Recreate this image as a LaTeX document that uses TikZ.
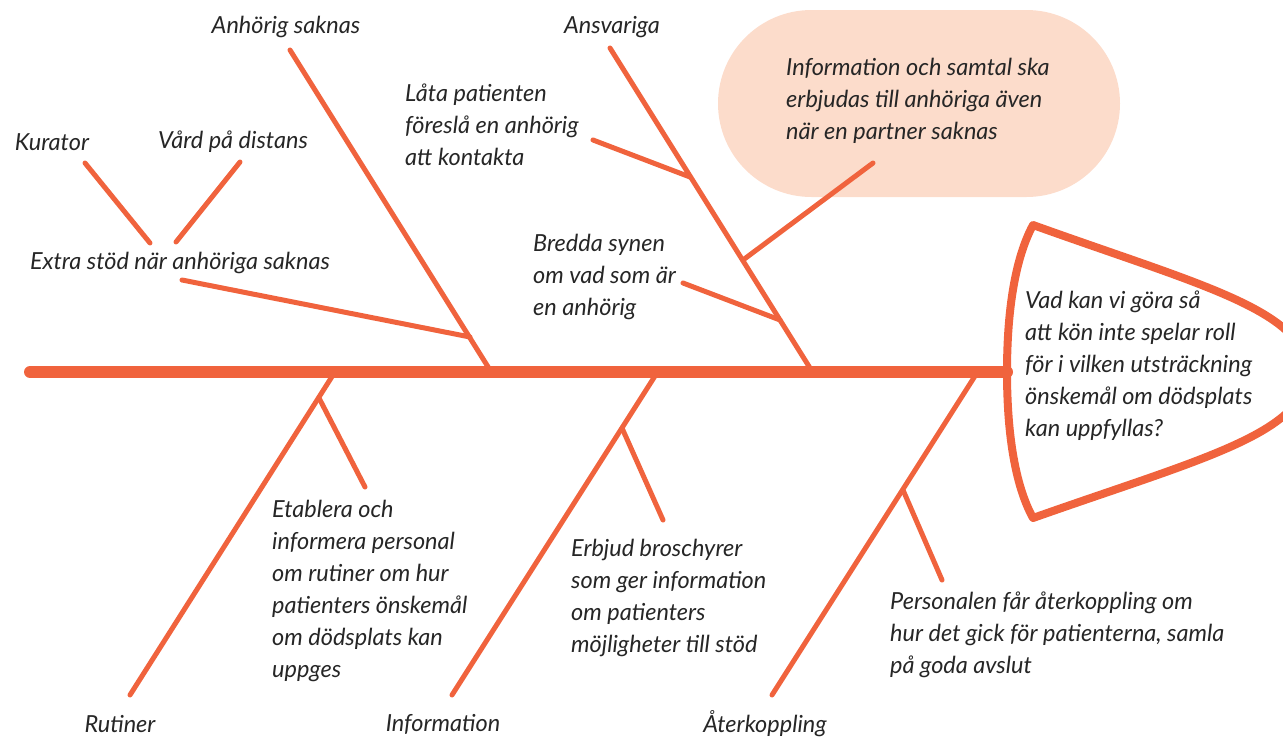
\documentclass[tikz,border=0pt]{standalone}
\usepackage{fontspec}
\setmainfont{Lato}
\usetikzlibrary{shapes.misc}
\definecolor{fishorange}{HTML}{F0633D}
\definecolor{bubblepink}{HTML}{FCDCCB}
\definecolor{textgray}{HTML}{262626}
\begin{document}
\begin{tikzpicture}[x=1pt,y=-1pt,
  bone/.style={draw=fishorange,line width=5pt,line cap=round},
  spine/.style={draw=fishorange,line width=12pt,line cap=round},
  headline/.style={draw=fishorange,line width=8pt,line join=round},
  lbl/.style={font=\fontsize{23.5}{32}\selectfont\itshape,text=textgray,inner sep=0pt},
  blk/.style={lbl,align=left,anchor=west},
  bubble/.style={rounded rectangle,fill=bubblepink,minimum width=402pt,minimum height=187pt,inner sep=0pt}]
\useasboundingbox (0,0) rectangle (1283,739);
\clip (0,0) rectangle (1283,739);

% bubble
\node[bubble] (bub) at (919,103.5) {};
\node[blk] (bubtext) at (786,101) {Information och samtal ska\\erbjudas till anhöriga även\\när en partner saknas};

% spine and head
\coordinate (s0) at (30,372);
\coordinate (s1) at (1007,372);
\draw[spine] (s0) -- (s1);
\draw[headline] (1033,225) .. controls (1200,285) and (1305,310) .. (1308,372)
  .. controls (1305,434) and (1200,459) .. (1033,518)
  .. controls (1012,480) and (1007,420) .. (1007,372)
  .. controls (1007,324) and (1012,264) .. (1033,225) -- cycle;
\node[blk] (head) at (1025,366) {Vad kan vi göra så\\att kön inte spelar roll\\för i vilken utsträckning\\önskemål om dödsplats\\kan uppfyllas?};

% upper bone: Anhörig saknas
\coordinate (a1) at (290,50);
\coordinate (a2) at (490,370);
\draw[bone] (a1) -- (a2);
\node[lbl] (anh) at (286,27) {Anhörig saknas};
\coordinate (e1) at (182,280);
\coordinate (e2) at (470,337);
\draw[bone] (e1) -- (e2);
\node[lbl] (extra) at (180,263) {Extra stöd när anhöriga saknas};
\coordinate (k1) at (85,163);
\coordinate (k2) at (150,243);
\draw[bone] (k1) -- (k2);
\node[lbl] (kur) at (52,142) {Kurator};
\coordinate (v1) at (240,162);
\coordinate (v2) at (176,242);
\draw[bone] (v1) -- (v2);
\node[lbl] (vard) at (233,142) {Vård på distans};

% upper bone: Ansvariga
\coordinate (b1) at (610,48);
\coordinate (b2) at (810,368);
\draw[bone] (b1) -- (b2);
\node[lbl] (ansv) at (612,27) {Ansvariga};
\coordinate (l1) at (593,140);
\coordinate (l2) at (690,177);
\draw[bone] (l1) -- (l2);
\node[blk] (lata) at (405,125) {Låta patienten\\föreslå en anhörig\\att kontakta};
\coordinate (r1) at (683,283);
\coordinate (r2) at (780,320);
\draw[bone] (r1) -- (r2);
\node[blk] (bredda) at (533,277) {Bredda synen\\om vad som är\\en anhörig};
\coordinate (p1) at (743,260);
\coordinate (p2) at (873,163);
\draw[bone] (p1) -- (p2);

% lower bone: Rutiner
\coordinate (c1) at (333,375);
\coordinate (c2) at (130,695);
\draw[bone] (c1) -- (c2);
\node[lbl] (rut) at (120,724) {Rutiner};
\coordinate (d1) at (319,398);
\coordinate (d2) at (365,487);
\draw[bone] (d1) -- (d2);
\node[blk] (etab) at (272,591) {Etablera och\\informera personal\\om rutiner om hur\\patienters önskemål\\om dödsplats kan\\uppges};

% lower bone: Information
\coordinate (f1) at (655,376);
\coordinate (f2) at (452,695);
\draw[bone] (f1) -- (f2);
\node[lbl] (info) at (443,724) {Information};
\coordinate (g1) at (622,428);
\coordinate (g2) at (663,520);
\draw[bone] (g1) -- (g2);
\node[blk] (erb) at (571,598) {Erbjud broschyrer\\som ger information\\om patienters\\möjligheter till stöd};

% lower bone: Återkoppling
\coordinate (h1) at (975,376);
\coordinate (h2) at (772,695);
\draw[bone] (h1) -- (h2);
\node[lbl] (ater) at (765,724) {Återkoppling};
\coordinate (i1) at (903,490);
\coordinate (i2) at (942,580);
\draw[bone] (i1) -- (i2);
\node[blk] (pers) at (890,635) {Personalen får återkoppling om\\hur det gick för patienterna, samla\\på goda avslut};
\end{tikzpicture}
\end{document}
